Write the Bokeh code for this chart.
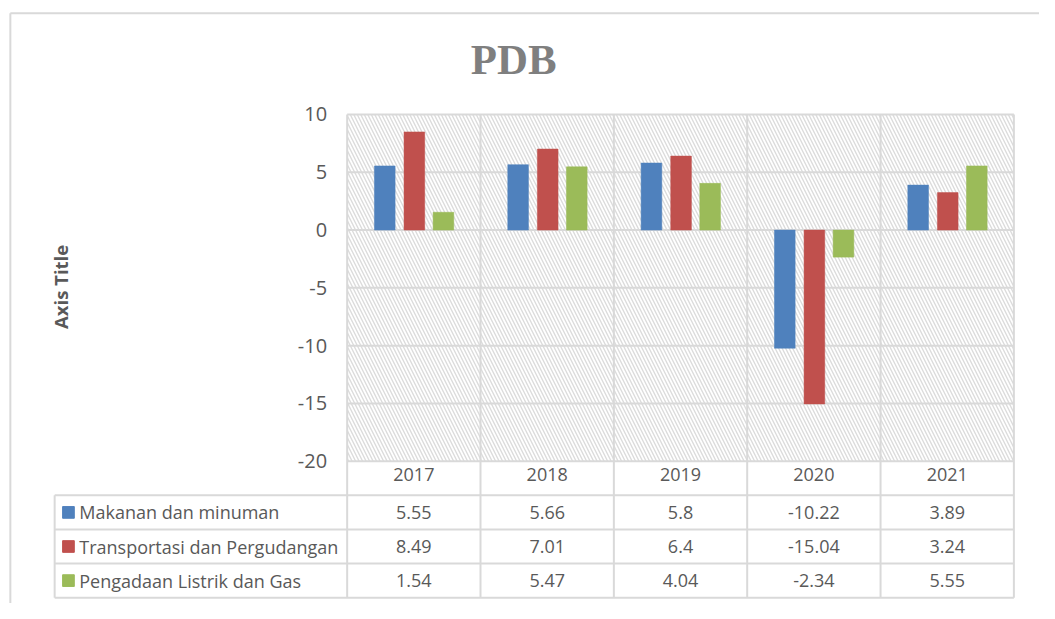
import math
from bokeh.plotting import figure
from bokeh.models import Range1d, LinearAxis, FixedTicker, ColumnDataSource
from bokeh.core.properties import value
from bokeh.embed import file_html
from bokeh.resources import INLINE

# ---------------- data ----------------
years = ["2017", "2018", "2019", "2020", "2021"]
series = ["Makanan dan minuman", "Transportasi dan Pergudangan", "Pengadaan Listrik dan Gas"]
makanan = [5.55, 5.66, 5.8, -10.22, 3.89]
transportasi = [8.49, 7.01, 6.4, -15.04, 3.24]
listrik = [1.54, 5.47, 4.04, -2.34, 5.55]
y_ticks = [-20, -15, -10, -5, 0, 5, 10]
title_text = "PDB"
axis_title = "Axis Title"

colors = ["#4F81BD", "#C0504D", "#9BBB59"]
values = [makanan, transportasi, listrik]

# ---------------- geometry (reference pixels -> data units) ----------------
W, H = 1039, 603
REF_W, REF_H = 1055, 619
PX0, PX1 = 352, 1029      # plot area left / right edge
PY_TOP, PY_BOT = 117, 473  # pixel rows of top / bottom tick
ncat = len(years)
ymin, ymax = min(y_ticks), max(y_ticks)
ux = (PX1 - PX0) / ncat
uy = (PY_BOT - PY_TOP) / (ymax - ymin)
S = min(W / REF_W, H / REF_H)


def dx(px):
    return (px - PX0) / ux


def dy(py):
    return ymax - (py - PY_TOP) / uy


def fs(px):
    return f"{px * S:.1f}px"


GRID = "#d9d9d9"
TXT = "#595959"
FONT = "Open Sans"

p = figure(width=W, height=H, output_backend="svg", toolbar_location=None,
           x_range=Range1d(dx(0), dx(REF_W)), y_range=Range1d(dy(REF_H), dy(0)),
           x_axis_location=None, y_axis_location=None, min_border=0,
           outline_line_color=None, background_fill_color="white",
           border_fill_color="white")
p.grid.visible = False

# outer chart border (left + top)
p.segment(x0=[dx(10), dx(10)], y0=[dy(13), dy(13)], x1=[dx(10), dx(1100)], y1=[dy(700), dy(13)],
          line_color=GRID, line_width=2)

# hatched plot area
p.quad(left=[0], right=[ncat], bottom=[ymin], top=[ymax], fill_color="white", line_color=None,
       hatch_pattern="\\", hatch_color="#dcdcdc", hatch_scale=7, hatch_weight=1.4)

# table rows geometry
header_bot = dy(508)
row_h = 35 / uy
row_edges = [header_bot - i * row_h for i in range(len(series) + 1)]
table_left = dx(55)

# horizontal grid lines
p.segment(x0=[0] * len(y_ticks), x1=[ncat] * len(y_ticks), y0=y_ticks, y1=y_ticks,
          line_color=GRID, line_width=2)
# vertical category lines (plot area + table)
p.segment(x0=list(range(ncat + 1)), x1=list(range(ncat + 1)), y0=[ymax] * (ncat + 1),
          y1=[row_edges[-1]] * (ncat + 1), line_color=GRID, line_width=2)
# table horizontal lines
p.segment(x0=[table_left] * len(row_edges), x1=[ncat] * len(row_edges), y0=row_edges, y1=row_edges,
          line_color=GRID, line_width=2)
# table left edge
p.segment(x0=[table_left], x1=[table_left], y0=[row_edges[0]], y1=[row_edges[-1]],
          line_color=GRID, line_width=2)

# bars
offsets = [-0.218, 0.004, 0.222]
bar_w = 0.155
for vals, col, off in zip(values, colors, offsets):
    src = ColumnDataSource(dict(x=[i + 0.5 + off for i in range(ncat)], top=vals))
    p.vbar(x="x", top="top", bottom=0, width=bar_w, source=src, fill_color=col,
           line_color=col, line_width=0.5)

# y axis (real axis placed at the left edge of the plot area)
yax = LinearAxis(fixed_location=0, ticker=FixedTicker(ticks=y_ticks), bounds=(ymin, ymax),
                 major_label_overrides={t: str(t) for t in y_ticks},
                 axis_line_color=None, major_tick_line_color=None, minor_tick_line_color=None,
                 major_tick_out=0, major_tick_in=0, major_label_standoff=int(round(21 * S)),
                 major_label_text_font=FONT, major_label_text_font_size=fs(20.5),
                 major_label_text_color=TXT)
p.add_layout(yax, "left")

# x axis used as table header row (years)
xax = LinearAxis(fixed_location=ymin, ticker=FixedTicker(ticks=[i + 0.5 for i in range(ncat)]),
                 major_label_overrides={i + 0.5: y for i, y in enumerate(years)},
                 axis_line_color=None, major_tick_line_color=None, minor_tick_line_color=None,
                 major_tick_out=0, major_tick_in=0, major_label_standoff=int(round(7 * S)),
                 major_label_text_font=FONT, major_label_text_font_size=fs(18.5),
                 major_label_text_color=TXT)
p.add_layout(xax, "below")

# table body
row_mid = [(row_edges[i] + row_edges[i + 1]) / 2 for i in range(len(series))]
tx, ty, tt = [], [], []
for r, vals in enumerate(values):
    for i, v in enumerate(vals):
        tx.append(i + 0.5)
        ty.append(row_mid[r])
        tt.append(str(v))
p.text(x=tx, y=ty, text=tt, text_align="center", text_baseline="middle",
       text_font=value(FONT), text_font_size=fs(18.5), text_color=TXT)

p.scatter(x=[dx(69)] * len(series), y=row_mid, marker="square", size=12 * S,
          fill_color=colors, line_color=colors)
p.text(x=[dx(80)] * len(series), y=row_mid, text=series, text_align="left",
       text_baseline="middle", text_font=value(FONT), text_font_size=fs(18.5), text_color=TXT)

# title and axis title
p.text(x=[dx(521)], y=[dy(61)], text=[title_text], text_align="center", text_baseline="middle",
       text_font=value("Liberation Serif"), text_font_style="bold", text_font_size=fs(44),
       text_color="#7f7f7f")
p.text(x=[dx(61)], y=[dy(294)], text=[axis_title], angle=math.pi / 2, text_align="center",
       text_baseline="middle", text_font=value(FONT), text_font_style="bold",
       text_font_size=fs(19), text_color=TXT)

open("out.html", "w").write(file_html(p, INLINE))
